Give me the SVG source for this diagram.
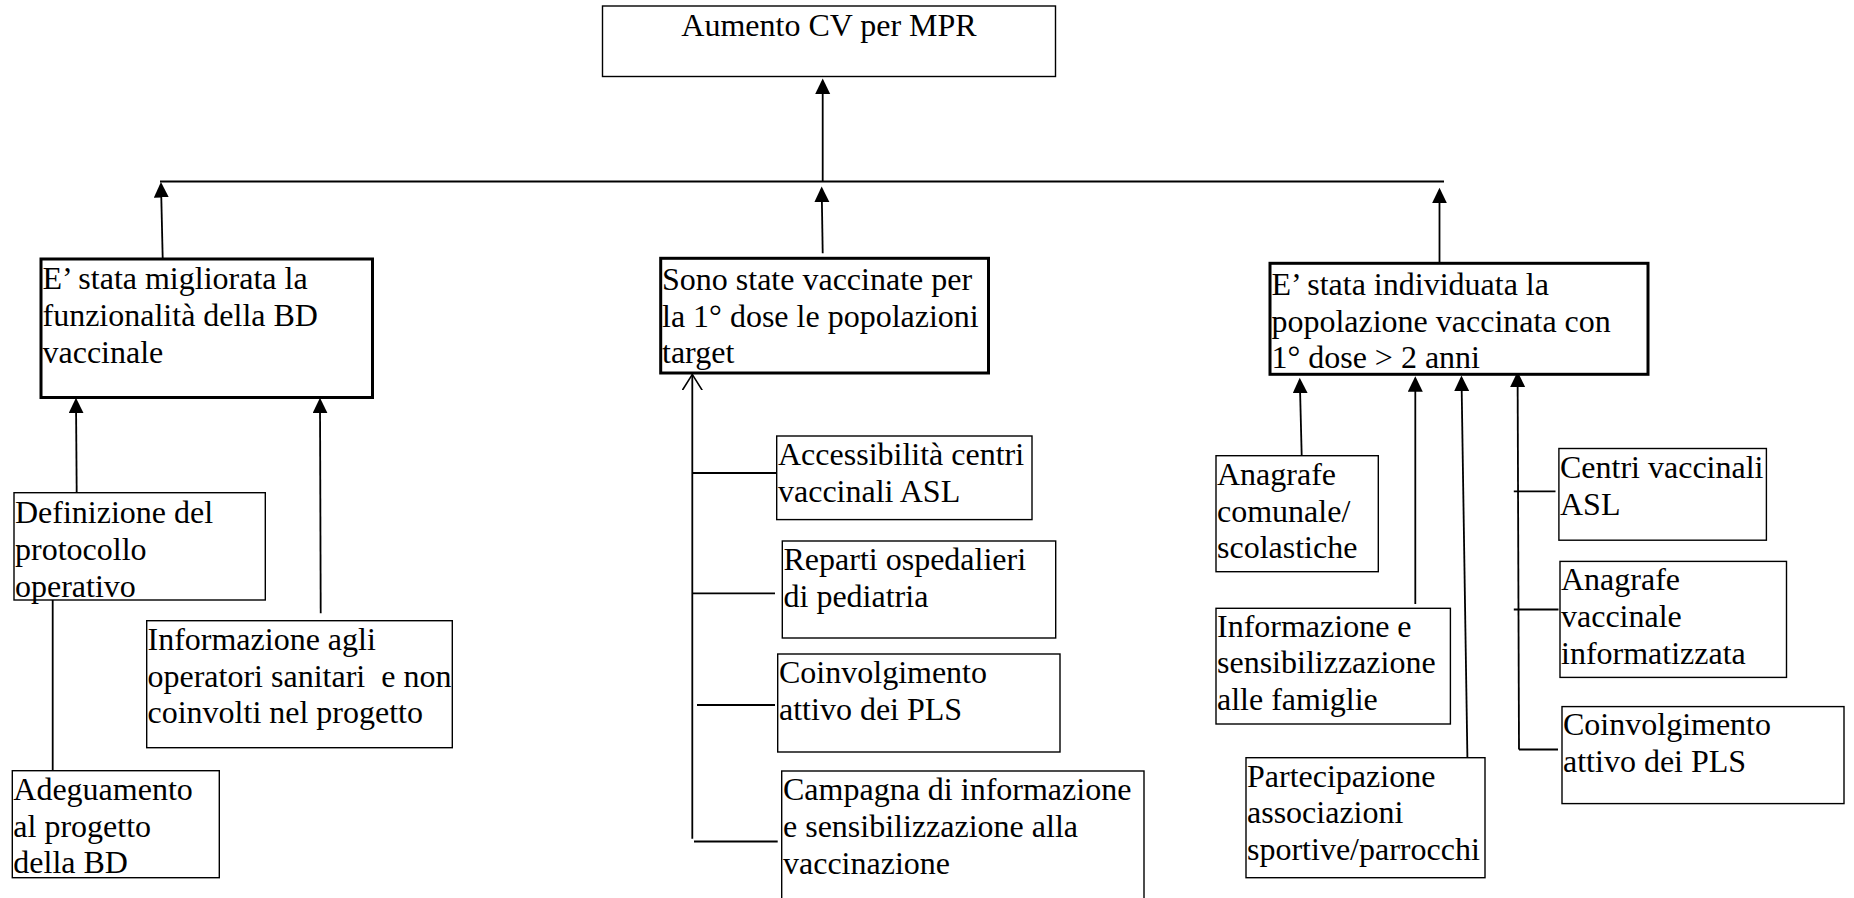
<svg xmlns="http://www.w3.org/2000/svg" width="1854" height="898" viewBox="0 0 1854 898">
<defs>
<style>
text{font-family:"Liberation Serif","Times New Roman",serif;font-size:32px;fill:#000}
.box{fill:#fff;stroke:#000;stroke-width:1.4}
.bold{fill:#fff;stroke:#000;stroke-width:3}
.c{fill:none;stroke:#000;stroke-width:1.8}
.arr{marker-end:url(#ah)}
.open{marker-end:url(#oh)}
</style>
<marker id="ah" markerUnits="userSpaceOnUse" markerWidth="16" markerHeight="16" refX="13" refY="7.5" orient="auto" viewBox="0 0 16 16">
<path d="M0,0 L15.5,7.5 L0,15 z" fill="#000"/>
</marker>
<marker id="oh" markerUnits="userSpaceOnUse" markerWidth="20" markerHeight="24" refX="16" refY="10" orient="auto" viewBox="0 0 20 24">
<path d="M0,0 L16,10 L0,20" fill="none" stroke="#000" stroke-width="1.6"/>
</marker>
</defs>
<rect width="1854" height="898" fill="#fff"/>

<g id="connectors">
<line class="c" x1="160" y1="181.5" x2="1444" y2="181.5" stroke-width="2.2"/>
<line class="c arr" x1="822.7" y1="181" x2="822.7" y2="81"/>
<line class="c arr" x1="162.7" y1="258" x2="161" y2="184.5"/>
<line class="c arr" x1="822.7" y1="253.3" x2="821.7" y2="189"/>
<line class="c arr" x1="1439.5" y1="263" x2="1439.5" y2="190.3"/>
<line class="c arr" x1="76.7" y1="492.5" x2="76" y2="400.3"/>
<line class="c arr" x1="320.7" y1="613.3" x2="320" y2="400.3"/>
<line class="c" x1="52.7" y1="770.7" x2="52.7" y2="592.7"/>
<line class="c open" x1="692.3" y1="838.7" x2="692.3" y2="374.4"/>
<line class="c" x1="692" y1="473" x2="776" y2="473"/>
<line class="c" x1="692" y1="593.4" x2="775" y2="593.4"/>
<line class="c" x1="697" y1="705" x2="775" y2="705"/>
<line class="c" x1="694" y1="841.5" x2="777.7" y2="841.5"/>
<line class="c arr" x1="1301.7" y1="455.5" x2="1299.8" y2="380.3"/>
<line class="c arr" x1="1415.3" y1="604" x2="1415.3" y2="378.7"/>
<line class="c arr" x1="1467.4" y1="757.5" x2="1461.5" y2="378"/>
<line class="c arr" x1="1519" y1="749.5" x2="1517.6" y2="374"/>
<line class="c" x1="1513.8" y1="491.4" x2="1555.5" y2="491.4"/>
<line class="c" x1="1513.8" y1="609.5" x2="1558.5" y2="609.5"/>
<line class="c" x1="1519" y1="749.5" x2="1558" y2="749.5"/>
</g>

<g id="n-aumento">
<rect class="box" x="602.5" y="6" width="453" height="70.5"/>
<text x="829" y="36" text-anchor="middle">Aumento CV per MPR</text>
</g>

<g id="n-migliorata">
<rect class="bold" x="41" y="259" width="331.5" height="138.5"/>
<text x="42.5" y="289.3">E’ stata migliorata la</text>
<text x="42.5" y="326">funzionalità della BD</text>
<text x="42.5" y="362.7">vaccinale</text>
</g>

<g id="n-vaccinate">
<rect class="bold" x="660.7" y="258.3" width="327.8" height="114.7"/>
<text x="662" y="290">Sono state vaccinate per</text>
<text x="662" y="326.7">la 1° dose le popolazioni</text>
<text x="662" y="363.3">target</text>
</g>

<g id="n-individuata">
<rect class="bold" x="1270" y="263.3" width="378" height="111"/>
<text x="1271.4" y="295">E’ stata individuata la</text>
<text x="1271.4" y="331.7">popolazione vaccinata con</text>
<text x="1271.4" y="368.3">1° dose &gt; 2 anni</text>
</g>

<g id="n-definizione">
<rect class="box" x="14" y="492.7" width="251.3" height="107.3"/>
<text x="15" y="523.3">Definizione del</text>
<text x="15" y="560">protocollo</text>
<text x="15" y="596.7">operativo</text>
</g>

<g id="n-informazione-operatori">
<rect class="box" x="146.7" y="620.7" width="305.6" height="127"/>
<text x="147.5" y="650" xml:space="preserve">Informazione agli</text>
<text x="147.5" y="686.7" xml:space="preserve">operatori sanitari  e non</text>
<text x="147.5" y="723.3">coinvolti nel progetto</text>
</g>

<g id="n-adeguamento">
<rect class="box" x="12.3" y="770.7" width="207" height="107"/>
<text x="13.3" y="800">Adeguamento</text>
<text x="13.3" y="836.7">al progetto</text>
<text x="13.3" y="873.3">della BD</text>
</g>

<g id="n-accessibilita">
<rect class="box" x="776.7" y="436" width="255.3" height="83.6"/>
<text x="778" y="465">Accessibilità centri</text>
<text x="778" y="502">vaccinali ASL</text>
</g>

<g id="n-reparti">
<rect class="box" x="782.3" y="541" width="273.4" height="97"/>
<text x="783.5" y="570">Reparti ospedalieri</text>
<text x="783.5" y="607">di pediatria</text>
</g>

<g id="n-coinvolgimento-pls-1">
<rect class="box" x="777.7" y="654" width="282.3" height="98"/>
<text x="779" y="683">Coinvolgimento</text>
<text x="779" y="720">attivo dei PLS</text>
</g>

<g id="n-campagna">
<rect class="box" x="781.7" y="771" width="362.3" height="140"/>
<text x="783" y="800">Campagna di informazione</text>
<text x="783" y="837">e sensibilizzazione alla</text>
<text x="783" y="874">vaccinazione</text>
</g>

<g id="n-anagrafe-comunale">
<rect class="box" x="1216" y="455.7" width="162.3" height="116"/>
<text x="1217" y="485">Anagrafe</text>
<text x="1217" y="521.7">comunale/</text>
<text x="1217" y="558.3">scolastiche</text>
</g>

<g id="n-informazione-famiglie">
<rect class="box" x="1216" y="608.3" width="234.4" height="115.7"/>
<text x="1217" y="636.7">Informazione e</text>
<text x="1217" y="673.3">sensibilizzazione</text>
<text x="1217" y="710">alle famiglie</text>
</g>

<g id="n-partecipazione">
<rect class="box" x="1246" y="757.7" width="239" height="120"/>
<text x="1247" y="786.7">Partecipazione</text>
<text x="1247" y="823.3">associazioni</text>
<text x="1247" y="860">sportive/parrocchi</text>
</g>

<g id="n-centri">
<rect class="box" x="1558.9" y="448.5" width="207.5" height="91.7"/>
<text x="1560" y="478.4">Centri vaccinali</text>
<text x="1560" y="515">ASL</text>
</g>

<g id="n-anagrafe-vaccinale">
<rect class="box" x="1560" y="561.4" width="226.5" height="116"/>
<text x="1561" y="590">Anagrafe</text>
<text x="1561" y="627">vaccinale</text>
<text x="1561" y="664">informatizzata</text>
</g>

<g id="n-coinvolgimento-pls-2">
<rect class="box" x="1562" y="706.6" width="282" height="97"/>
<text x="1563" y="735">Coinvolgimento</text>
<text x="1563" y="772">attivo dei PLS</text>
</g>
</svg>
